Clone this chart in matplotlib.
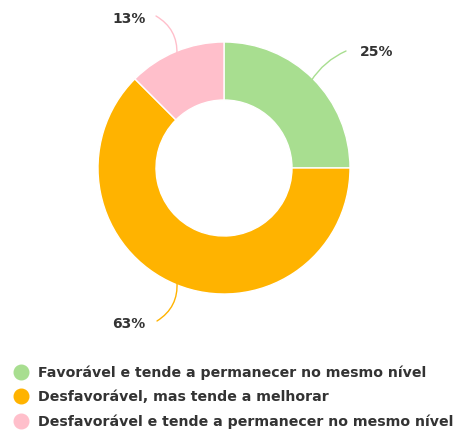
import numpy as np
import matplotlib.pyplot as plt
from matplotlib.lines import Line2D

# dados do gráfico
categorias = ['Favorável e tende a permanecer no mesmo nível',
              'Desfavorável, mas tende a melhorar',
              'Desfavorável e tende a permanecer no mesmo nível']
valores = [25, 62.5, 12.5]
rotulos = ['25%', '63%', '13%']
cores = ['#a8de90', '#ffb300', '#ffbfcb']

plt.rcParams['font.family'] = ['DejaVu Sans']

W, H = 457, 430
fig = plt.figure(figsize=(W / 100, H / 100), dpi=100)
ax = fig.add_axes([0, 0, 1, 1])

cx, cy, R = 224, H - 168, 126
wedges, _ = ax.pie(valores, colors=cores, startangle=90, counterclock=False,
                   center=(cx, cy), radius=R, frame=True,
                   wedgeprops=dict(width=58, edgecolor='white', linewidth=1))
ax.set_xlim(0, W)
ax.set_ylim(0, H)
ax.axis('off')

# fim das linhas guia (pixels)
fim_linha = [(346, H - 51), (157, H - 321), (156, H - 16)]
raios = [-0.15, -0.3, 0.3]
for w, txt, (lx, ly), c, rad in zip(wedges, rotulos, fim_linha, cores, raios):
    ang = np.deg2rad((w.theta1 + w.theta2) / 2)
    px, py = cx + (R - 3) * np.cos(ang), cy + (R - 3) * np.sin(ang)
    ax.annotate('', xy=(lx, ly), xytext=(px, py),
                arrowprops=dict(arrowstyle='-', color=c, lw=1,
                                shrinkA=0, shrinkB=0,
                                connectionstyle=f'arc3,rad={rad}'))
    if lx > cx:
        ax.text(lx + 14, ly - 1, txt, ha='left', va='center', fontsize=10,
                fontweight='bold', color='#333333')
    else:
        ax.text(lx - 10 if ly > cy else lx - 12, ly - 3, txt, ha='right', va='center',
                fontsize=10, fontweight='bold', color='#333333')

handles = [Line2D([], [], marker='o', linestyle='none', markersize=10.5,
                  markerfacecolor=c, markeredgecolor=c) for c in cores]
leg = fig.legend(handles, categorias, loc='upper left', bbox_to_anchor=(4 / W, 1 - 360 / H),
                 frameon=False, handletextpad=0.4, labelspacing=0.72, handlelength=1.6,
                 prop=dict(size=10.2, weight='bold'), borderaxespad=0)
for t in leg.get_texts():
    t.set_color('#333333')

fig.savefig('out.png', dpi=100, facecolor='white')
